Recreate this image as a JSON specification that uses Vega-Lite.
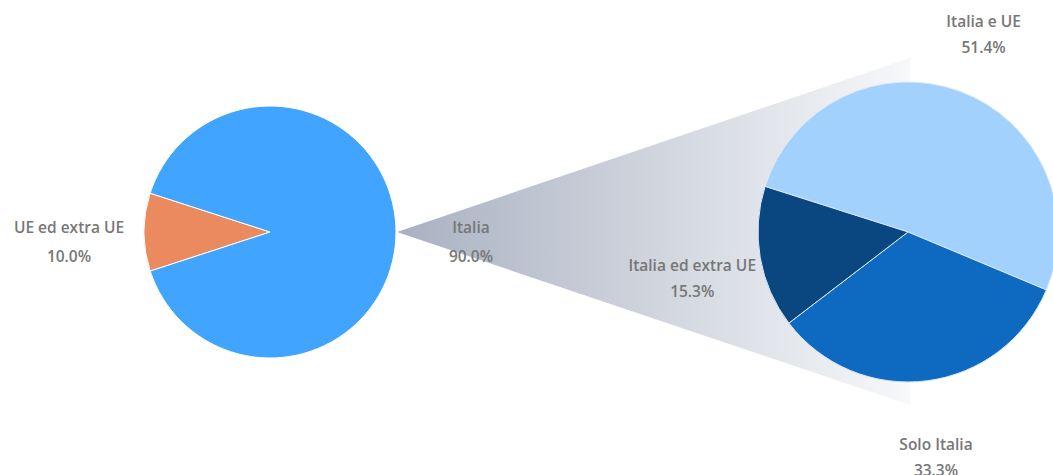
{
  "$schema": "https://vega.github.io/schema/vega-lite/v6.json",
  "width": 1053,
  "height": 475,
  "padding": 0,
  "autosize": {"type": "none"},
  "config": {"view": {"stroke": null}},
  "resolve": {"scale": {"theta": "independent", "color": "independent"}},
  "layer": [
    {
      "data": {"values": [
        {"x": 397, "y": 232, "y2": 232},
        {"x": 910, "y": 58, "y2": 405}
      ]},
      "mark": {
        "type": "area",
        "orient": "vertical",
        "color": {
          "x1": 0, "y1": 0, "x2": 1, "y2": 0,
          "gradient": "linear",
          "stops": [
            {"offset": 0, "color": "#a9b1c1"},
            {"offset": 1, "color": "#f7f8fa"}
          ]
        }
      },
      "encoding": {
        "x": {"field": "x", "type": "quantitative", "scale": {"domain": [0, 1053], "nice": false, "zero": false}, "axis": null},
        "y": {"field": "y", "type": "quantitative", "scale": {"domain": [0, 475], "nice": false, "zero": false, "reverse": true}, "axis": null},
        "y2": {"field": "y2"}
      }
    },
    {
      "data": {"values": [
        {"name": "UE ed extra UE", "value": 10.0},
        {"name": "Italia", "value": 90.0}
      ]},
      "transform": [
        {"calculate": "datum.name + '\\n' + format(datum.value, '.1f') + '%'", "as": "label"}
      ],
      "encoding": {
        "x": {"datum": 270, "type": "quantitative"},
        "y": {"datum": 232, "type": "quantitative"},
        "theta": {"field": "value", "type": "quantitative", "stack": true, "scale": {"range": [4.397, 10.680]}},
        "order": {"field": "value", "sort": "ascending"}
      },
      "layer": [
        {
          "mark": {"type": "arc", "outerRadius": 126, "stroke": "#ffffff", "strokeWidth": 1},
          "encoding": {
            "color": {"field": "name", "type": "nominal", "legend": null,
              "scale": {"domain": ["UE ed extra UE", "Italia"], "range": ["#eb8a5f", "#41a5ff"]}}
          }
        },
        {
          "mark": {"type": "text", "radius": 201, "dy": -4, "font": "Open Sans", "fontWeight": 600, "fontSize": 15.5, "fill": "#777777", "lineBreak": "\n", "lineHeight": 29, "align": "center", "baseline": "middle"},
          "encoding": {"text": {"field": "label"}}
        }
      ]
    },
    {
      "data": {"values": [
        {"name": "Italia e UE", "value": 51.4},
        {"name": "Solo Italia", "value": 33.3},
        {"name": "Italia ed extra UE", "value": 15.3}
      ]},
      "transform": [
        {"calculate": "datum.name + '\\n' + format(datum.value, '.1f') + '%'", "as": "label"}
      ],
      "encoding": {
        "x": {"datum": 908, "type": "quantitative"},
        "y": {"datum": 232, "type": "quantitative"},
        "theta": {"field": "value", "type": "quantitative", "stack": true, "scale": {"range": [5.021, 11.304]}},
        "order": {"field": "value", "sort": "descending"}
      },
      "layer": [
        {
          "mark": {"type": "arc", "outerRadius": 150, "stroke": "#dbe9f7", "strokeWidth": 1},
          "encoding": {
            "color": {"field": "name", "type": "nominal", "legend": null,
              "scale": {"domain": ["Italia e UE", "Solo Italia", "Italia ed extra UE"], "range": ["#a2d1fe", "#0e69c1", "#0a4780"]}}
          }
        },
        {
          "mark": {"type": "text", "radius": 219, "dy": -4, "font": "Open Sans", "fontWeight": 600, "fontSize": 15.5, "fill": "#777777", "lineBreak": "\n", "lineHeight": 26, "align": "center", "baseline": "middle"},
          "encoding": {"text": {"field": "label"}}
        }
      ]
    }
  ]
}
